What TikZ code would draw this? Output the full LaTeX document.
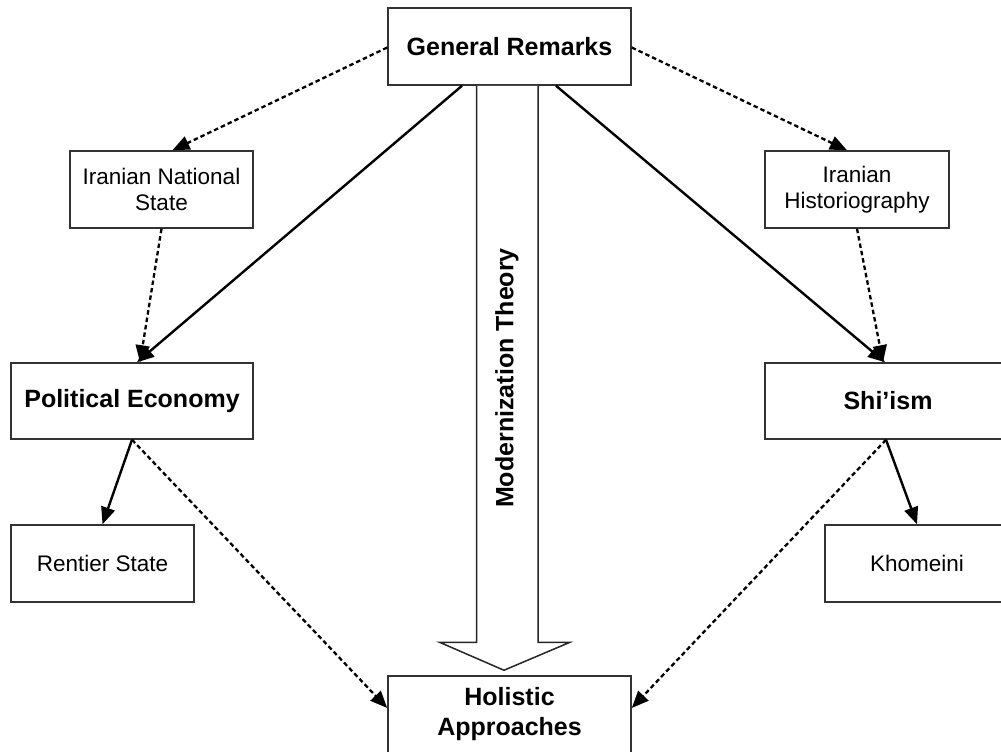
\documentclass[tikz,border=0pt]{standalone}
\usepackage{fontspec}
\setmainfont{Liberation Sans}
\usetikzlibrary{arrows.meta,calc}
\begin{document}
\begin{tikzpicture}[x=1pt,y=-1pt,
  box/.style={draw=black!80, line width=1.5pt, fill=white, inner sep=0pt,
    minimum height=77pt, align=center},
  mainbox/.style={box, font=\fontsize{25}{30}\selectfont\bfseries},
  subbox/.style={box, font=\fontsize{22.5}{26}\selectfont},
  tip/.style={-{Triangle[length=17pt,width=14pt]}},
  solidlink/.style={tip, line width=2.4pt},
  dottedlink/.style={tip, line width=2.3pt, dash pattern=on 4.5pt off 3pt},
  bigarrow/.style={draw=black!85, line width=1.5pt, fill=white}
]
\useasboundingbox (0,0) rectangle (1001,752);
\fill[white] (0,0) rectangle (1001,752);
\clip (0,0) rectangle (1001,752);

% boxes
\node[mainbox, minimum width=243pt] (gr)  at (509.5,46.5) {General Remarks};
\node[subbox,  minimum width=183pt] (ins) at (161.5,189.5) {Iranian National\\State};
\node[subbox,  minimum width=184pt] (ih)  at (857,189.5)   {Iranian\\Historiography};
\node[mainbox, minimum width=242pt, minimum height=76pt] (pe) at (132,401) {Political Economy};
\node[mainbox, minimum width=246pt, minimum height=76pt] (sh) at (888,401) {Shi’ism};
\node[subbox,  minimum width=183pt] (rs)  at (102.5,563.5) {Rentier State};
\node[subbox,  minimum width=184pt] (kh)  at (917,563.5)   {Khomeini};
\node[mainbox, minimum width=243pt] (ha)  at (509.5,714.5) {Holistic\\Approaches};

% broad arrow from General Remarks down to Holistic Approaches
\path (gr.south) coordinate (bt) (ha.north) coordinate (bb);
\draw[bigarrow]
  ($(bt)+(-33,0)$) -- ($(bb)+(-33,-33)$) -- ($(bb)+(-70,-33)$) --
  ($(bb)+(-5.5,-5)$) -- ($(bb)+(60.5,-33)$) -- ($(bb)+(28.5,-33)$) --
  ($(bt)+(28.5,0)$);
\node[rotate=90, font=\fontsize{25}{30}\selectfont\bfseries] (mt) at (507,378) {Modernization Theory};

% links
\draw[dottedlink] ($(gr.west)+(0,1)$) -- ($(ins.north)+(11,0)$);
\draw[dottedlink] ($(gr.east)+(0,1)$) -- ($(ih.north)+(-10,0)$);
\draw[solidlink] ($(gr.south)+(-47.5,0)$) -- ($(pe.north)+(5,0)$);
\draw[solidlink] ($(gr.south)+(46.5,0)$) -- ($(sh.north)+(-3,0)$);
\draw[dottedlink] (ins.south) -- ($(pe.north)+(8,0)$);
\draw[dottedlink] (ih.south) -- ($(sh.north)+(-5,0)$);
\draw[solidlink] (pe.south) -- (rs.north);
\draw[dottedlink] (pe.south) -- ($(ha.west)+(0,-6.5)$);
\draw[solidlink] ($(sh.south)+(-2,0)$) -- (kh.north);
\draw[dottedlink] ($(sh.south)+(-2,0)$) -- ($(ha.east)+(0,-6.5)$);
\end{tikzpicture}
\end{document}
